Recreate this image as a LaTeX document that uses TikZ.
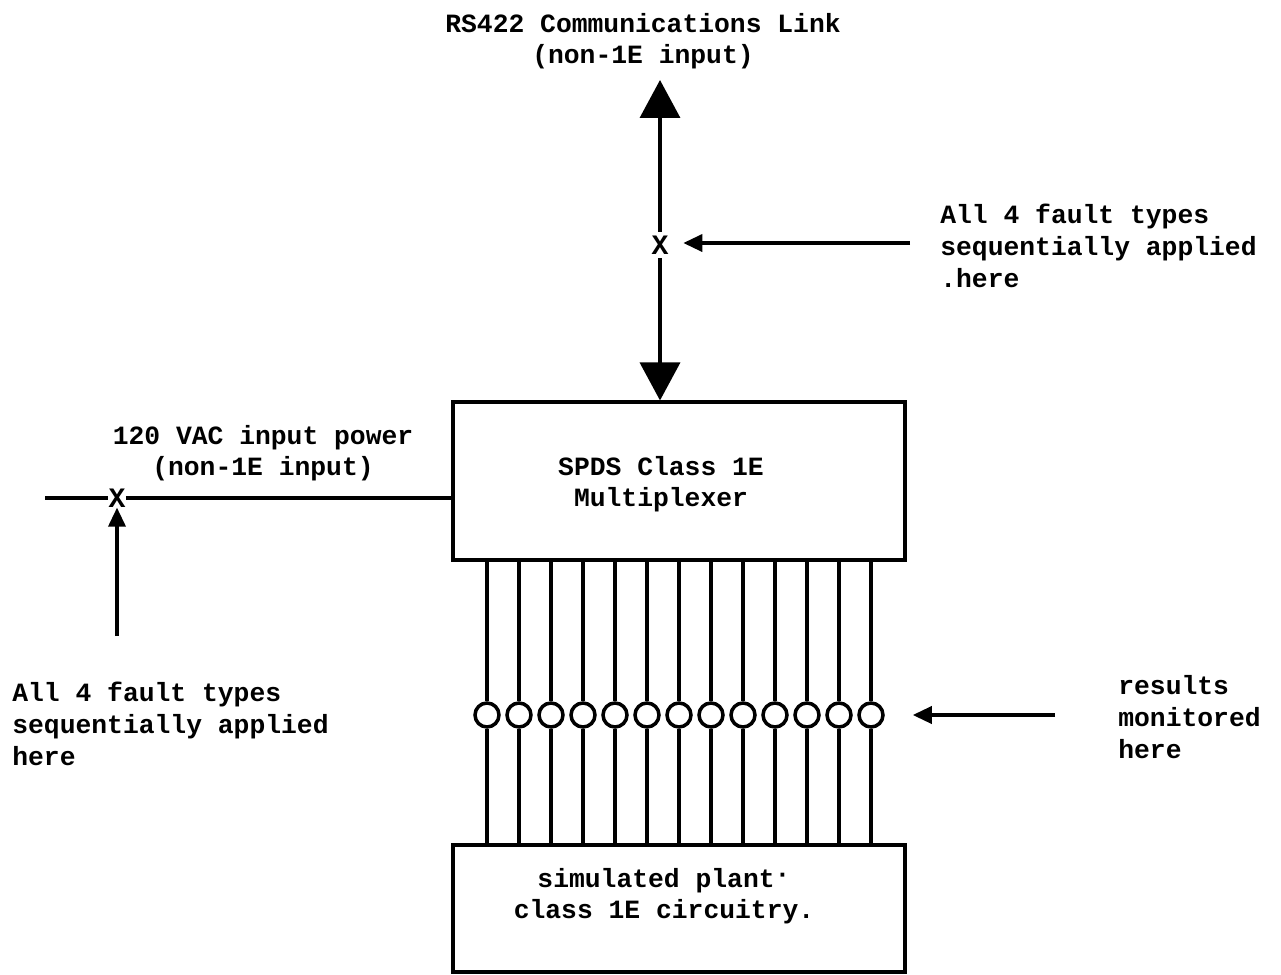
\documentclass[tikz,border=0pt]{standalone}
\usepackage{fontspec}
\setmonofont{Liberation Mono}
\usetikzlibrary{arrows.meta}
\begin{document}
\begin{tikzpicture}[x=0.02cm,y=-0.02cm,
  txt/.style={font=\ttfamily\bfseries\fontsize{15}{18}\selectfont, inner sep=0pt},
  xmark/.style={font=\ttfamily\bfseries\fontsize{16}{18}\selectfont, inner sep=2pt},
  blk/.style={draw, line width=1.8pt, inner sep=0pt},
  ln/.style={line width=2pt},
  bigtip/.style={-{Triangle[length=0.76cm,width=0.8cm]}},
  smalltip/.style={-{Triangle[length=0.38cm,width=0.34cm]}},
  probe/.style={draw, circle, line width=2pt, minimum size=0.48cm, inner sep=0pt}
]
\useasboundingbox (0,0) rectangle (1281,974);

% boxes
\node[blk, minimum width=9.04cm, minimum height=3.16cm] (mux) at (679,481) {};
\node[blk, minimum width=9.04cm, minimum height=2.54cm] (plant) at (679,908.5) {};
\node[txt, align=center] (muxlbl) at (661,484) {SPDS Class 1E\\Multiplexer};
\node[txt, align=center] (plantlbl) at (664,896) {simulated plant\raisebox{0.35ex}{\textperiodcentered}\\class 1E circuitry.};

% top link
\node[txt, align=center] (rs) at (643,41) {RS422 Communications Link\\(non-1E input)};
\coordinate (toptip) at (660,80);
\node[xmark] (x1) at (660,245) {X};
\draw[ln, bigtip] (x1.north) -- (toptip);
\draw[ln, bigtip] (x1.south) -- (x1.south |- mux.north);

\node[txt, align=left, anchor=west] (rlbl) at (940,246) {All 4 fault types\\sequentially applied\\.here};
\coordinate (rstart) at (910,243);
\draw[ln, smalltip, shorten >=0.22cm] (rstart) -- (x1.east |- rstart);

% power input
\node[txt, align=center] (pw) at (263,453) {120 VAC input power\\(non-1E input)};
\coordinate (pwstart) at (45,498);
\node[xmark, inner sep=0pt] (x2) at (117,498) {X};
\draw[ln] (pwstart) -- (x2.west);
\draw[ln] (x2.east) -- (x2.east -| mux.west);
\coordinate (lstart) at (117,636);
\draw[ln, smalltip] (lstart) -- (x2.south);
\node[txt, align=left, anchor=west] (llbl) at (12,724) {All 4 fault types\\sequentially applied\\here};

% probes
\foreach \i in {0,...,12} {
  \node[probe] (c\i) at ({487+32*\i},715) {};
  \draw[ln] (c\i.north |- mux.south) -- (c\i.north);
  \draw[ln] (c\i.south) -- (c\i.south |- plant.north);
}

\node[txt, align=left, anchor=west] (mlbl) at (1118,717) {results\\monitored\\here};
\coordinate (mstart) at (1055,715);
\draw[ln, smalltip, shorten >=0.56cm] (mstart) -- (c12.east |- mstart);
\end{tikzpicture}
\end{document}
